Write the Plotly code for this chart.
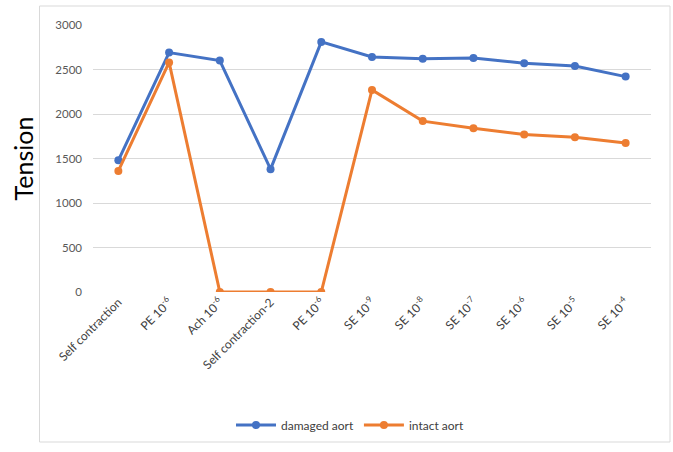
import plotly.graph_objects as go

categories = [
    "Self contraction", "PE 10<sup>-6</sup>", "Ach 10<sup>-6</sup>", "Self contraction-2",
    "PE 10<sup>-6</sup>", "SE 10<sup>-9</sup>", "SE 10<sup>-8</sup>", "SE 10<sup>-7</sup>",
    "SE 10<sup>-6</sup>", "SE 10<sup>-5</sup>", "SE 10<sup>-4</sup>",
]
damaged = [1480, 2690, 2600, 1380, 2810, 2640, 2620, 2630, 2570, 2540, 2420]
intact = [1360, 2580, 0, 0, 0, 2270, 1920, 1840, 1770, 1740, 1675]
y_ticks = [0, 500, 1000, 1500, 2000, 2500, 3000]

x_idx = list(range(len(categories)))

FONT = "Lato, 'Open Sans', sans-serif"
BLUE = "#4472C4"
ORANGE = "#ED7D31"

fig = go.Figure()
fig.add_trace(go.Scatter(
    x=x_idx, y=damaged, name="damaged aort", mode="lines+markers",
    line=dict(color=BLUE, width=3), marker=dict(color=BLUE, size=8),
))
fig.add_trace(go.Scatter(
    x=x_idx, y=intact, name="intact aort", mode="lines+markers",
    line=dict(color=ORANGE, width=3), marker=dict(color=ORANGE, size=8),
))

W, H = 673, 452
ml, mr, mt, mb = 93, 22, 25, 160
pw, ph = W - ml - mr, H - mt - mb

def px_to_paper_x(px):
    return (px - ml) / pw

def px_to_paper_y(py):
    return (H - mb - py) / ph

fig.update_layout(
    width=W, height=H,
    margin=dict(l=ml, r=mr, t=mt, b=mb),
    paper_bgcolor="white", plot_bgcolor="white",
    font=dict(family=FONT, color="#595959", size=11),
    showlegend=True,
    legend=dict(
        orientation="h", x=px_to_paper_x(350), xanchor="center",
        y=px_to_paper_y(425), yanchor="middle",
        font=dict(size=12, color="#404040", family=FONT),
        itemwidth=40,
    ),
    xaxis=dict(
        tickmode="array", tickvals=x_idx, ticktext=categories,
        range=[-0.5, len(categories) - 0.5], tickangle=-45,
        showgrid=False, zeroline=False, showline=False,
        tickfont=dict(size=12, color="#404040", family=FONT),
    ),
    yaxis=dict(
        range=[0, 3000], tickvals=y_ticks,
        showgrid=True, gridcolor="#d9d9d9", gridwidth=1,
        zeroline=False, showline=False,
        tickfont=dict(size=11.5, color="#595959", family=FONT),
        ticklabelstandoff=10,
        title=dict(text="Tension", font=dict(size=25, color="#000000", family=FONT), standoff=14),
    ),
    shapes=[dict(
        type="rect", xref="paper", yref="paper",
        x0=px_to_paper_x(39.5), x1=px_to_paper_x(670),
        y0=px_to_paper_y(442), y1=px_to_paper_y(6),
        line=dict(color="#d9d9d9", width=1), fillcolor="rgba(0,0,0,0)", layer="below",
    )],
)

fig.write_html("out.html")
